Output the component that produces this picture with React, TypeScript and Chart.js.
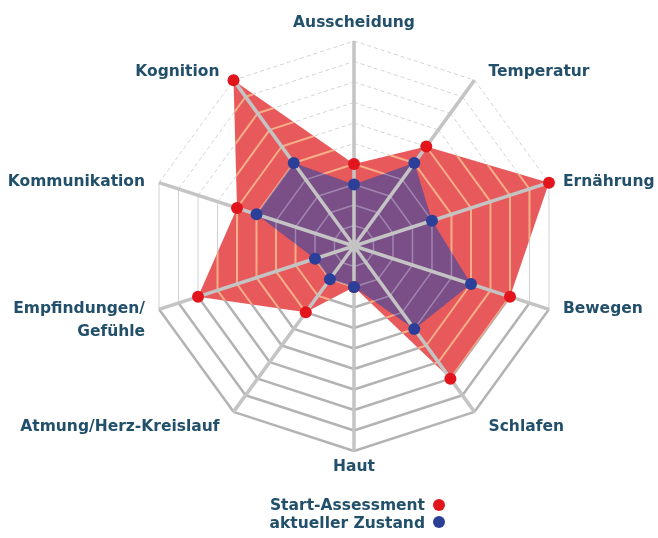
import React, { useEffect, useRef } from 'react';
import { Chart, registerables } from 'chart.js';
Chart.register(...registerables);

const categories: (string | string[])[] = [
  'Ausscheidung',
  'Temperatur',
  'Ernährung',
  'Bewegen',
  'Schlafen',
  'Haut',
  'Atmung/Herz-Kreislauf',
  ['Empfindungen/', 'Gefühle'],
  'Kommunikation',
  'Kognition',
];
const startAssessment = [4, 6, 10, 8, 8, 2, 4, 8, 6, 10];
const aktuellerZustand = [3, 5, 4, 6, 5, 2, 2, 2, 5, 5];
const ringSteps = [1, 2, 3, 4, 5, 6, 7, 8, 9, 10];
const seriesNames = ['Start-Assessment', 'aktueller Zustand'];

const LABEL_COLOR = '#22506a';
const LABEL_FONT = 'bold 15.5px "DejaVu Sans"';
const RED_FILL = '#e8595c';
const PURPLE_FILL = '#7a4f87';
const RED_POINT = '#e2151c';
const BLUE_POINT = '#2b3f98';

const upperSegs = [8, 9, 0, 1];
const sideSegs = [2, 7];
const lowerSegs = [3, 4, 5, 6];
const allSegs = [0, 1, 2, 3, 4, 5, 6, 7, 8, 9];

function strokeRings(ctx: CanvasRenderingContext2D, scale: any, segs: number[]) {
  const n = categories.length;
  ctx.beginPath();
  for (const v of ringSteps) {
    for (const s of segs) {
      const a = scale.getPointPositionForValue(s, v);
      const b = scale.getPointPositionForValue((s + 1) % n, v);
      ctx.moveTo(a.x, a.y);
      ctx.lineTo(b.x, b.y);
    }
  }
  ctx.stroke();
}

function polyPath(ctx: CanvasRenderingContext2D, scale: any, values: number[]) {
  ctx.beginPath();
  values.forEach((v, i) => {
    const p = scale.getPointPositionForValue(i, v);
    if (i === 0) ctx.moveTo(p.x, p.y);
    else ctx.lineTo(p.x, p.y);
  });
  ctx.closePath();
}

const gridPlugin = {
  id: 'customGrid',
  beforeDatasetsDraw(chart: any) {
    const ctx = chart.ctx as CanvasRenderingContext2D;
    const scale = chart.scales.r;
    ctx.save();
    ctx.lineCap = 'butt';
    ctx.strokeStyle = '#d4d4d4';
    ctx.lineWidth = 1;
    ctx.setLineDash([4, 3]);
    strokeRings(ctx, scale, upperSegs);
    ctx.setLineDash([]);
    ctx.strokeStyle = '#d0d0d0';
    strokeRings(ctx, scale, sideSegs);
    ctx.strokeStyle = '#b3b3b3';
    ctx.lineWidth = 2.5;
    strokeRings(ctx, scale, lowerSegs);
    ctx.restore();
  },
  afterDatasetDraw(chart: any, args: any) {
    if (args.index !== 1) return;
    const ctx = chart.ctx as CanvasRenderingContext2D;
    const scale = chart.scales.r;
    ctx.save();
    polyPath(ctx, scale, startAssessment);
    ctx.clip();
    ctx.strokeStyle = '#f4ae88';
    ctx.lineWidth = 2;
    strokeRings(ctx, scale, allSegs);
    ctx.restore();

    ctx.save();
    polyPath(ctx, scale, aktuellerZustand);
    ctx.clip();
    ctx.fillStyle = PURPLE_FILL;
    polyPath(ctx, scale, aktuellerZustand);
    ctx.fill();
    ctx.strokeStyle = '#a085b0';
    ctx.lineWidth = 1.5;
    strokeRings(ctx, scale, allSegs);
    ctx.restore();

    ctx.save();
    ctx.strokeStyle = '#c4c4c4';
    ctx.lineWidth = 3.5;
    ctx.beginPath();
    for (let i = 0; i < categories.length; i++) {
      const c = scale.getPointPositionForValue(i, 0);
      const p = scale.getPointPositionForValue(i, 10);
      ctx.moveTo(c.x, c.y);
      ctx.lineTo(p.x, p.y);
    }
    ctx.stroke();
    ctx.restore();
  },
  afterDraw(chart: any) {
    const ctx = chart.ctx as CanvasRenderingContext2D;
    const scale = chart.scales.r;
    ctx.save();
    ctx.font = LABEL_FONT;
    ctx.fillStyle = LABEL_COLOR;
    ctx.textBaseline = 'middle';
    const n = categories.length;
    for (let i = 0; i < n; i++) {
      const v = scale.getPointPositionForValue(i, 10);
      const ang = (i / n) * Math.PI * 2;
      const s = Math.sin(ang);
      const c = Math.cos(ang);
      let x = v.x;
      let align: CanvasTextAlign = 'center';
      if (Math.abs(s) > 0.1) {
        align = s > 0 ? 'left' : 'right';
        x += (s > 0 ? 1 : -1) * 14;
      }
      let dy = 0;
      if (c > 0.9) dy = -18;
      else if (c > 0.5) dy = -8;
      else if (c > 0) dy = -1;
      else if (c < -0.9) dy = 16;
      else if (c < -0.5) dy = 15;
      ctx.textAlign = align;
      const lines = Array.isArray(categories[i]) ? (categories[i] as string[]) : [categories[i] as string];
      lines.forEach((t, k) => ctx.fillText(t, x, v.y + dy + k * 23));
    }
    ctx.restore();
  },
};

export default function App() {
  const ref = useRef<HTMLCanvasElement | null>(null);
  useEffect(() => {
    document.body.style.margin = '0';
    if (!ref.current) return;
    const chart = new Chart(ref.current, {
      type: 'radar',
      data: {
        labels: categories as any,
        datasets: [
          {
            label: seriesNames[0],
            data: startAssessment,
            backgroundColor: RED_FILL,
            borderWidth: 0,
            fill: true,
            pointRadius: 0,
            order: 4,
          },
          {
            label: seriesNames[1],
            data: aktuellerZustand,
            backgroundColor: PURPLE_FILL,
            borderWidth: 0,
            fill: true,
            pointRadius: 0,
            order: 3,
          },
          {
            label: seriesNames[0] + ' Punkte',
            data: startAssessment,
            showLine: false,
            fill: false,
            pointRadius: 6,
            pointBackgroundColor: RED_POINT,
            pointBorderColor: RED_POINT,
            pointBorderWidth: 0,
            order: 2,
          },
          {
            label: seriesNames[1] + ' Punkte',
            data: aktuellerZustand,
            showLine: false,
            fill: false,
            pointRadius: 6,
            pointBackgroundColor: BLUE_POINT,
            pointBorderColor: BLUE_POINT,
            pointBorderWidth: 0,
            order: 1,
          },
        ],
      },
      options: {
        animation: false,
        responsive: false,
        maintainAspectRatio: false,
        layout: { padding: { left: 104, right: 54, top: 41, bottom: 87 } },
        plugins: { legend: { display: false }, tooltip: { enabled: false } },
        scales: {
          r: {
            min: 0,
            max: 10,
            ticks: { display: false, stepSize: 1 },
            grid: { display: false },
            angleLines: { display: false },
            pointLabels: { display: false },
          },
        },
      },
      plugins: [gridPlugin],
    });
    return () => chart.destroy();
  }, []);

  const dot = (c: string) => (
    <span
      style={{
        display: 'inline-block',
        width: 12,
        height: 12,
        borderRadius: 6,
        background: c,
        marginLeft: 8,
        verticalAlign: 'middle',
        position: 'relative',
        top: -1,
      }}
    />
  );

  return (
    <div style={{ position: 'relative', width: 658, height: 538, background: '#fff' }}>
      <canvas ref={ref} width={658} height={538} style={{ display: 'block' }} />
      <div
        style={{
          position: 'absolute',
          left: 0,
          top: 497,
          width: 445,
          textAlign: 'right',
          fontFamily: 'DejaVu Sans',
          fontWeight: 'bold',
          fontSize: 15.5,
          lineHeight: '17.5px',
          color: LABEL_COLOR,
        }}
      >
        <div>
          {seriesNames[0]}
          {dot(RED_POINT)}
        </div>
        <div>
          {seriesNames[1]}
          {dot(BLUE_POINT)}
        </div>
      </div>
    </div>
  );
}
